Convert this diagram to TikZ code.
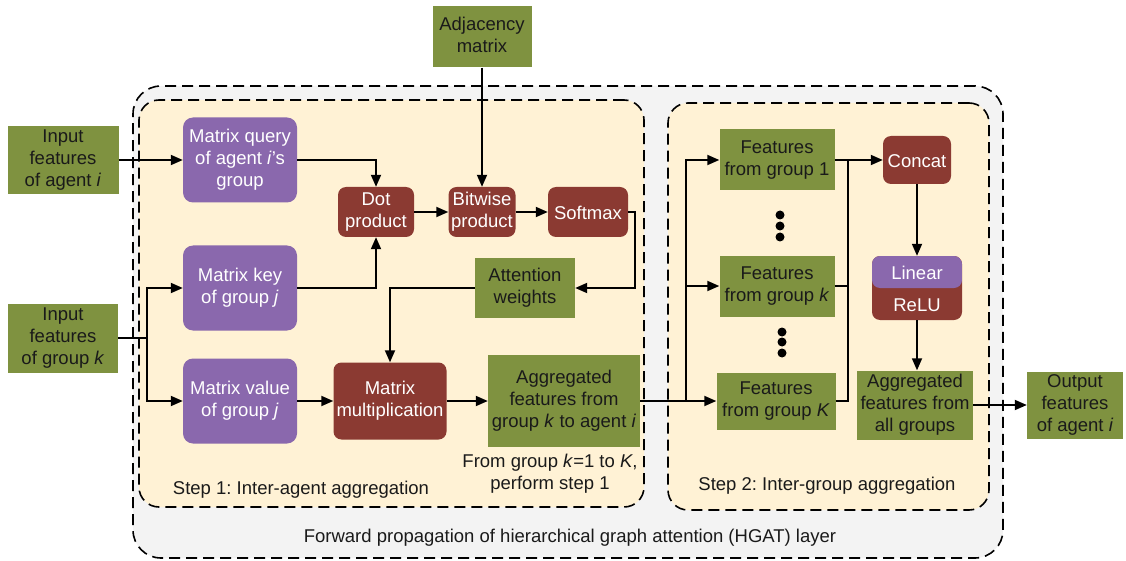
\documentclass[tikz,border=0pt]{standalone}
\usepackage{fontspec}
\setmainfont{Liberation Sans}
\usetikzlibrary{arrows.meta}
\definecolor{gr}{HTML}{7F9240}
\definecolor{pu}{HTML}{8A68AD}
\definecolor{rd}{HTML}{8B3A32}
\definecolor{cream}{HTML}{FFF2D5}
\definecolor{bgg}{HTML}{F3F3F3}
\definecolor{txt}{HTML}{1A1A1A}
\newcommand\lnstrut{\rule[-3.55pt]{0pt}{22pt}}
\frenchspacing
\begin{document}
\begin{tikzpicture}[x=1pt,y=-1pt,
  font=\fontsize{18.5}{22}\selectfont\frenchspacing,
  tx/.style={execute at begin node=\lnstrut, execute at end node=\lnstrut},
  gbox/.style={tx, fill=gr, text=txt, align=center, inner sep=0pt},
  pbox/.style={tx, fill=pu, text=white, align=center, inner sep=0pt, rounded corners=10pt, minimum width=114pt, minimum height=85pt},
  rbox/.style={tx, fill=rd, text=white, align=center, inner sep=0pt, rounded corners=8pt},
  cbox/.style={draw=black, line width=1.6pt, dash pattern=on 11pt off 6pt, inner sep=0pt},
  dotc/.style={circle, fill=black, inner sep=0pt, minimum size=9pt},
  lbl/.style={tx, text=txt, align=center, inner sep=0pt},
  ln/.style={line width=1.8pt, draw=black},
  arr/.style={ln, -{Triangle[length=12pt,width=10pt]}}]
\useasboundingbox (0,0) rectangle (1126,561);
% containers
\node[cbox, fill=bgg, rounded corners=28pt, minimum width=870pt, minimum height=472pt] (outer) at (568,322) {};
\node[cbox, fill=cream, rounded corners=20pt, minimum width=505pt, minimum height=407pt] (s1) at (391.5,303.5) {};
\node[cbox, fill=cream, rounded corners=20pt, minimum width=321pt, minimum height=407pt] (s2) at (828.5,306.5) {};
\node[lbl] (lblout) at (570,535) {Forward propagation of hierarchical graph attention (HGAT) layer};
\node[lbl] (lbl1) at (301,487) {Step 1: Inter-agent aggregation};
\node[lbl] (lbl1b) at (550,474) {From group \textit{k}=1 to \textit{K},\\perform step 1};
\node[lbl] (lbl2) at (827,483) {Step 2: Inter-group aggregation};
% step 1 nodes
\node[gbox, minimum width=111pt, minimum height=68pt] (inA) at (63,160) {Input\\features\\of agent \textit{i}};
\node[gbox, minimum width=110pt, minimum height=69pt] (inG) at (63,338) {Input\\features\\of group \textit{k}};
\node[pbox] (q) at (240,160) {Matrix query\\of agent \textit{i}'s\\group};
\node[pbox] (key) at (240,288) {Matrix key\\of group \textit{j}};
\node[pbox] (val) at (240,401) {Matrix value\\of group \textit{j}};
\node[rbox, minimum width=76pt, minimum height=50pt] (dot) at (376,212) {Dot\\product};
\node[rbox, minimum width=67pt, minimum height=50pt] (bit) at (482,212) {Bitwise\\product};
\node[rbox, minimum width=80pt, minimum height=50pt] (soft) at (588,212) {Softmax};
\node[gbox, minimum width=100pt, minimum height=60pt] (att) at (525,288) {Attention\\weights};
\node[rbox, minimum width=113pt, minimum height=77pt] (mm) at (390,401) {Matrix\\multiplication};
\node[gbox, minimum width=152pt, minimum height=92pt] (agg) at (564,401) {Aggregated\\features from\\group \textit{k} to agent \textit{i}};
\node[gbox, minimum width=99pt, minimum height=61pt] (adj) at (482,37) {Adjacency\\matrix};
% step 2 nodes
\node[gbox, minimum width=115pt, minimum height=61pt] (f1) at (777,160) {Features\\from group 1};
\node[gbox, minimum width=115pt, minimum height=61pt] (fk) at (777,286) {Features\\from group \textit{k}};
\node[gbox, minimum width=119pt, minimum height=57pt] (fK) at (776,401) {Features\\from group \textit{K}};
\node[dotc] (da1) at (780,215) {};
\node[dotc] (da2) at (780,226) {};
\node[dotc] (da3) at (780,237) {};
\node[dotc] (db1) at (782,332) {};
\node[dotc] (db2) at (782,342) {};
\node[dotc] (db3) at (782,353) {};
\node[rbox, minimum width=68pt, minimum height=48pt] (concat) at (917,160) {Concat};
\node[rbox, fill=rd, minimum width=90pt, minimum height=64pt,
  path picture={\fill[pu] (path picture bounding box.north west) rectangle (path picture bounding box.east);}] (lr) at (917,288) {};
\node[lbl, text=white] (lin) at (917,272) {Linear};
\node[lbl, text=white] (relu) at (917,304) {ReLU};
\node[gbox, minimum width=116pt, minimum height=69pt] (aggall) at (915,405) {Aggregated\\features from\\all groups};
\node[gbox, minimum width=96pt, minimum height=67pt] (out) at (1075,405) {Output\\features\\of agent \textit{i}};
% connectors step 1
\draw[arr] (inA.east) -- (inA.east -| q.west);
\coordinate (jg) at (147,338);
\draw[ln] (inG.east) -- (jg);
\draw[arr] (jg) |- (key.west);
\draw[arr] (jg) |- (val.west);
\draw[arr] (q.east) -| (dot.north);
\draw[arr] (key.east) -| (dot.south);
\draw[arr] (dot) -- (bit);
\draw[arr] (bit) -- (soft);
\draw[arr] (adj) -- (bit);
\coordinate (sc) at (635,212);
\draw[arr] (soft.east) -- (sc) |- (att.east);
\draw[arr] (att.west) -| (mm.north);
\draw[arr] (val) -- (mm);
\draw[arr] (mm) -- (agg);
% connectors step 2
\coordinate (ja) at (686,401);
\draw[ln] (agg.east) -- (ja);
\draw[arr] (ja) |- (f1.west);
\draw[arr] (ja) |- (fk.west);
\draw[arr] (ja) -- (fK.west);
\coordinate (jf) at (848,160);
\draw[ln] (f1.east) -- (jf);
\draw[ln] (fk.east) -| (jf);
\draw[ln] (fK.east) -| (jf);
\draw[arr] (jf) -- (concat.west);
\draw[arr] (concat) -- (lr.north);
\draw[arr] (lr.south) -- (lr.south |- aggall.north);
\draw[arr] (aggall.east) -- (aggall.east -| out.west);
\end{tikzpicture}
\end{document}
